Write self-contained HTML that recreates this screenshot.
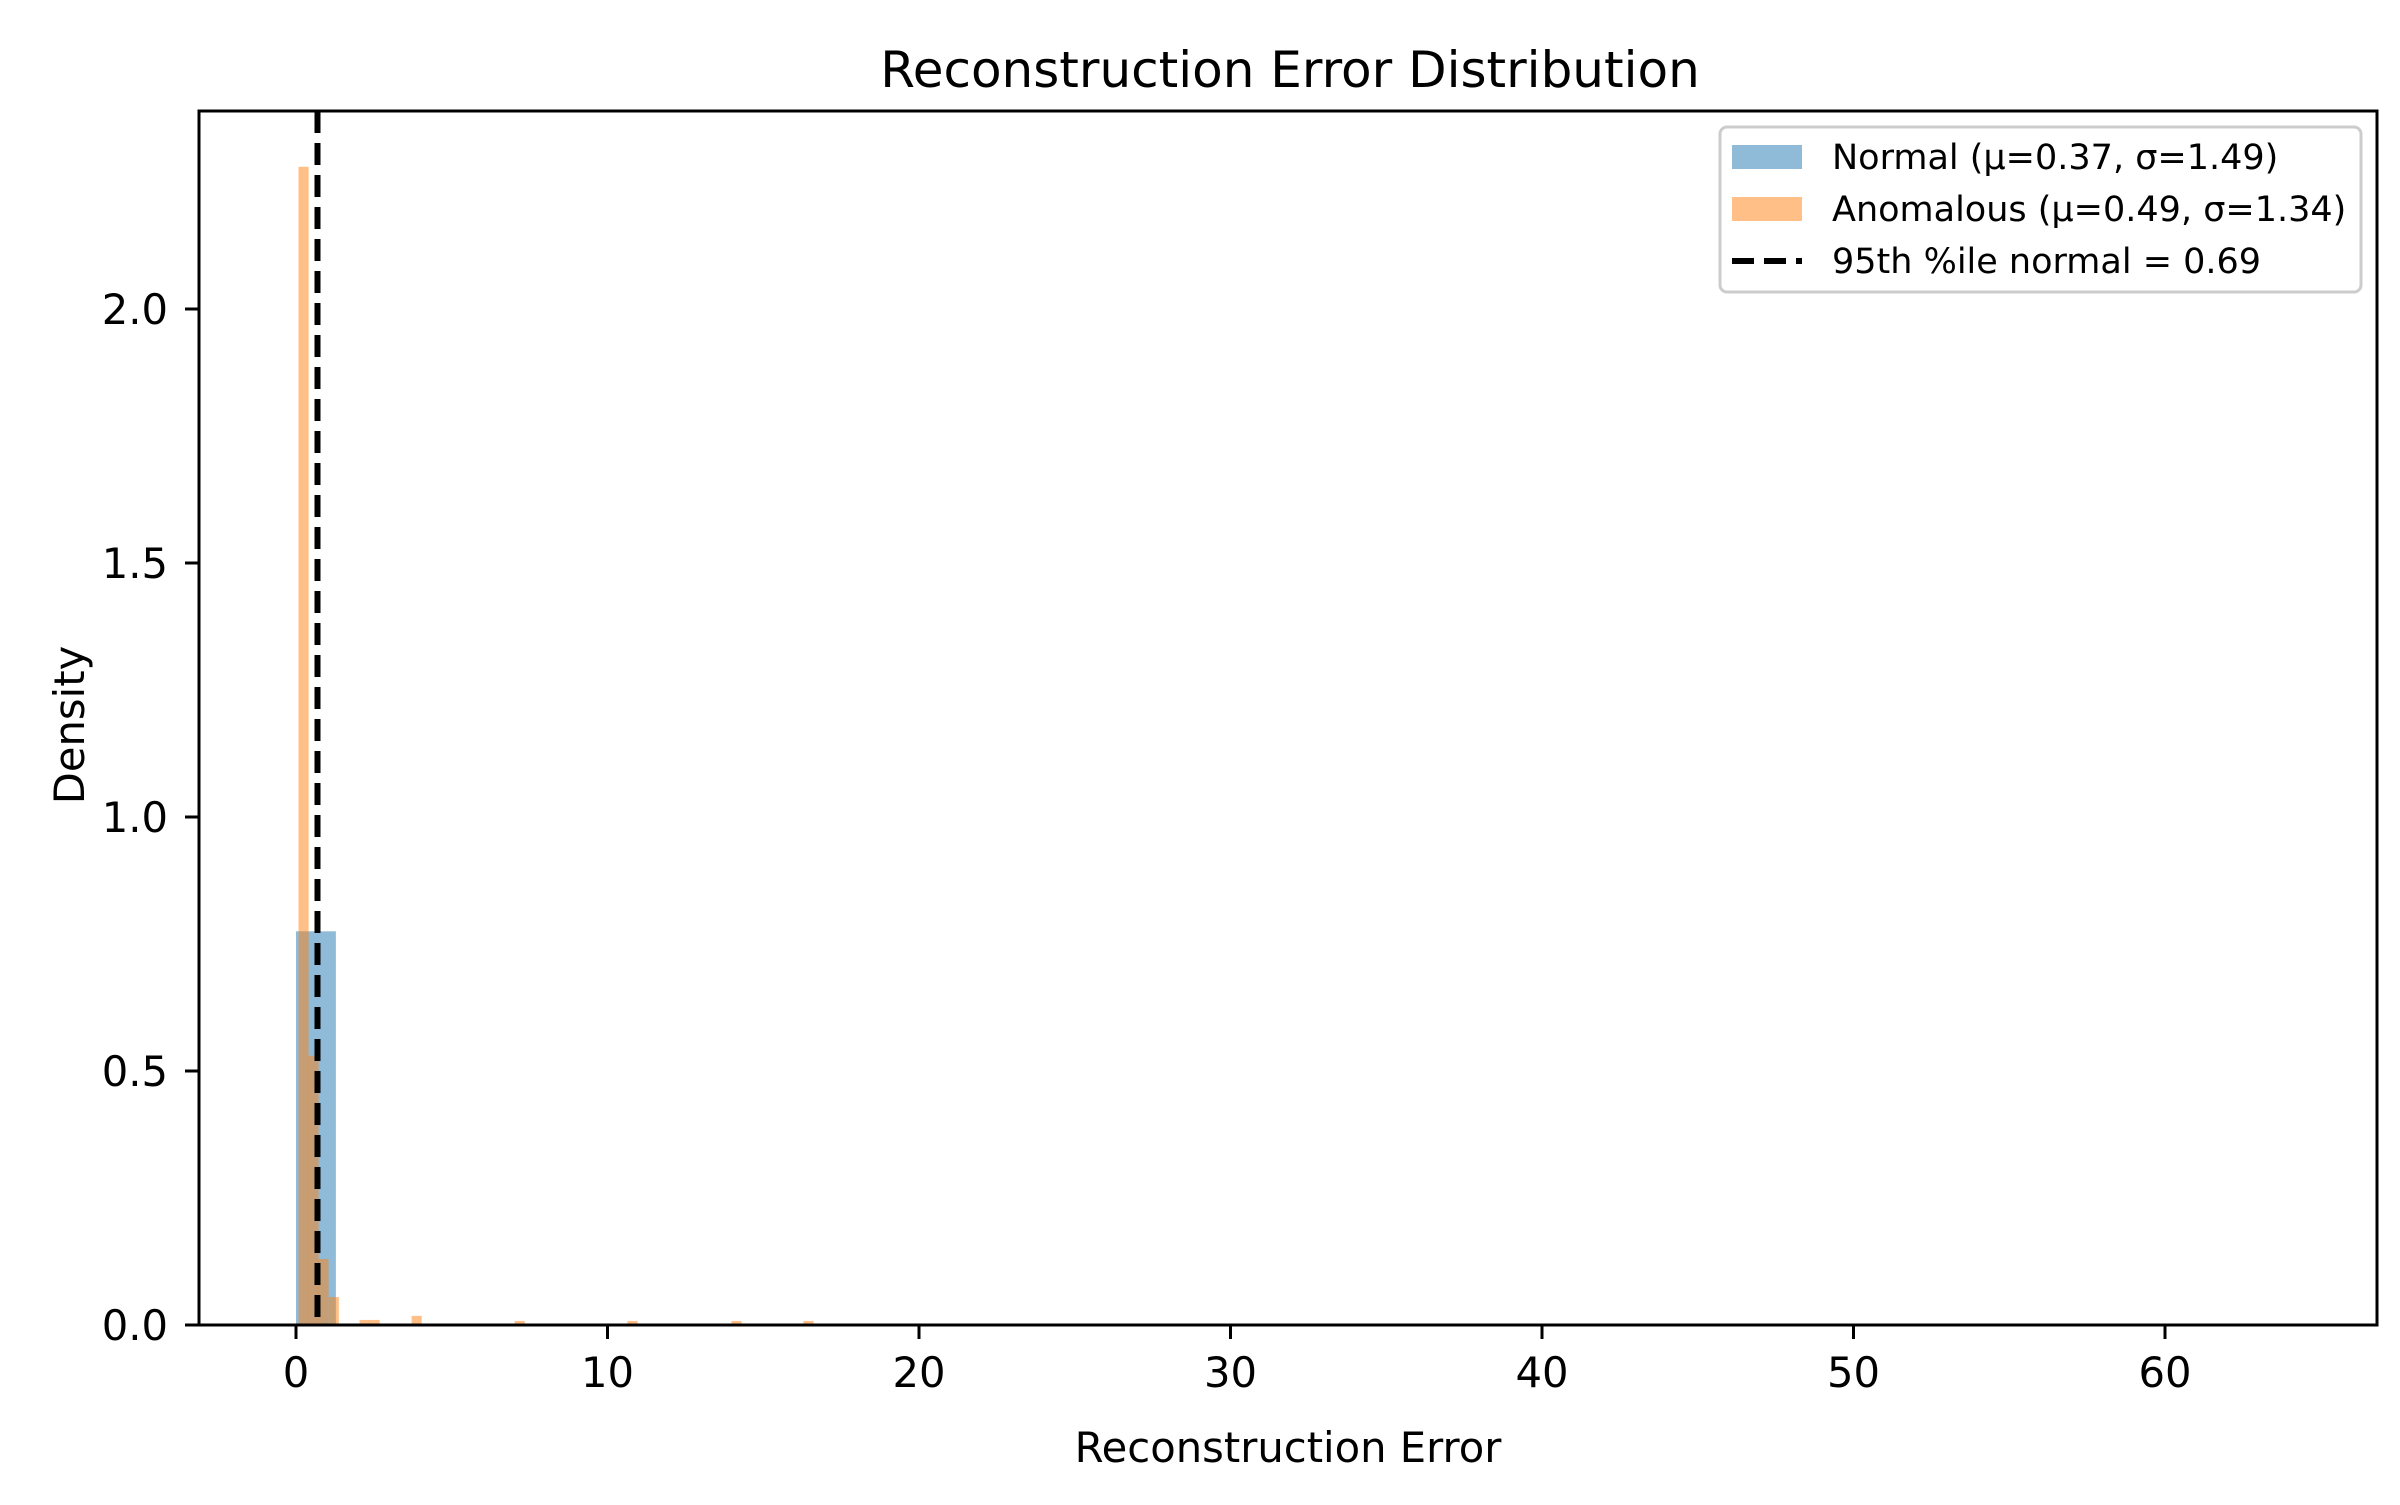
<!DOCTYPE html>
<html><head><meta charset="utf-8"><style>
html,body{margin:0;padding:0;background:#fff;}
svg text{font-family:"DejaVu Sans","Liberation Sans",sans-serif;fill:#000;}
</style></head><body>
<svg id="chart" width="2400" height="1500" viewBox="0 0 2400 1500" xmlns="http://www.w3.org/2000/svg">
<rect width="2400" height="1500" fill="#fff"/>
<g id="bars"></g>
<g id="axes"></g>
</svg>
<script>
const xTicks = [0, 10, 20, 30, 40, 50, 60];
const yTicks = [0.0, 0.5, 1.0, 1.5, 2.0];
const normalBinStarts = [0.0, 1.28];
const normalBinWidth = 1.28;
const normalHeights = [0.775, 0.003];
const anomBinStarts = [0.08, 0.40, 0.72, 1.05, 2.04, 2.36, 3.71, 7.02, 10.64, 13.98, 16.29];
const anomBinWidth = 0.325;
const anomHeights = [2.28, 0.53, 0.13, 0.055, 0.01, 0.01, 0.018, 0.008, 0.008, 0.008, 0.008];
const threshold = 0.69;

const L=199,R=2377,T=111,B=1325;
const X=v=>296+v*31.15;
const Y=v=>B-v*508;
const NS='http://www.w3.org/2000/svg';
function mk(tag,attrs,parent,txt){const e=document.createElementNS(NS,tag);for(const k in attrs)e.setAttribute(k,attrs[k]);if(txt!==undefined)e.textContent=txt;parent.appendChild(e);return e;}
const bars=document.getElementById('bars');
const axes=document.getElementById('axes');

normalBinStarts.forEach((s,i)=>{
  const e=mk('rect',{x:X(s),y:Y(normalHeights[i]),width:X(s+normalBinWidth)-X(s),height:B-Y(normalHeights[i]),fill:'#1f77b4','fill-opacity':0.5},bars);
  
  
});
anomBinStarts.forEach((s,i)=>{
  const e=mk('rect',{x:X(s),y:Y(anomHeights[i]),width:X(s+anomBinWidth)-X(s),height:B-Y(anomHeights[i]),fill:'#ff7f0e','fill-opacity':0.5},bars);
  
  
});
const th=mk('line',{x1:X(threshold),x2:X(threshold),y1:T,y2:B,stroke:'#000','stroke-width':6,'stroke-dasharray':'22,10'},bars);



const frame=mk('rect',{x:L,y:T,width:R-L,height:B-T,fill:'none',stroke:'#000','stroke-width':3},axes);



xTicks.forEach(t=>{
  mk('line',{x1:X(t),x2:X(t),y1:B,y2:B+14,stroke:'#000','stroke-width':3},axes);
  const e=mk('text',{x:X(t),y:B+62,'text-anchor':'middle','font-size':41.7},axes,String(t));
  
  
});
yTicks.forEach(t=>{
  mk('line',{x1:L-14,x2:L,y1:Y(t),y2:Y(t),stroke:'#000','stroke-width':3},axes);
  const e=mk('text',{x:L-31,y:Y(t)+15,'text-anchor':'end','font-size':41.7},axes,t.toFixed(1));
  
  
});
let e;
e=mk('text',{x:1288,y:1462,'text-anchor':'middle','font-size':41.7},axes,'Reconstruction Error');


e=mk('text',{x:0,y:0,'text-anchor':'middle','font-size':41.7,transform:'translate(84,725) rotate(-90)'},axes,'Density');


e=mk('text',{x:1290,y:87,'text-anchor':'middle','font-size':50},axes,'Reconstruction Error Distribution');



const lg=mk('g',{},axes);


mk('rect',{x:1720,y:127,width:641,height:165,rx:7,fill:'#fff','fill-opacity':0.8,stroke:'#ccc','stroke-width':3},lg);
const entries=[['Normal (μ=0.37, σ=1.49)','#1f77b4'],['Anomalous (μ=0.49, σ=1.34)','#ff7f0e'],['95th %ile normal = 0.69',null]];
entries.forEach((en,i)=>{
  const cy=157+i*52;
  const g=mk('g',{},lg);
  
  
  if(en[1]) mk('rect',{x:1732,y:cy-12,width:70,height:24,fill:en[1],'fill-opacity':0.5},g);
  else mk('line',{x1:1732,x2:1802,y1:cy,y2:cy,stroke:'#000','stroke-width':6,'stroke-dasharray':'22,10'},g);
  mk('text',{x:1832,y:cy+12,'font-size':35},g,en[0]);
});
</script>
</body></html>
